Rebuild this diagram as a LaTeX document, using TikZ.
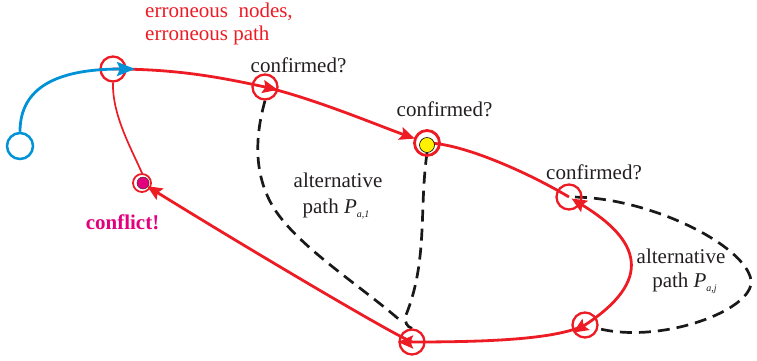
\documentclass[tikz,border=0pt]{standalone}
\usepackage{fontspec}
\setmainfont{Liberation Serif}
\usetikzlibrary{arrows.meta,backgrounds}
\definecolor{myred}{RGB}{237,28,36}
\definecolor{myblue}{RGB}{0,146,214}
\definecolor{mymag}{RGB}{228,0,124}
\definecolor{myyellow}{RGB}{255,241,0}
\definecolor{mytext}{RGB}{35,31,32}
\newcommand\pathsub[1]{\raisebox{-4pt}{\fontsize{10}{10}\selectfont\itshape #1}}
\begin{document}
\begin{tikzpicture}[x=1pt,y=-1pt,
  ring/.style={circle,draw=myred,line width=2.3pt,minimum size=25pt,inner sep=0pt},
  startring/.style={circle,draw=myblue,line width=2.5pt,minimum size=26pt,inner sep=0pt},
  mainpath/.style={draw=myred,line width=2.8pt},
  redtip/.style={-{Stealth[length=15pt,width=13pt,inset=2.5pt]}},
  redtipstart/.style={{Stealth[length=15pt,width=13pt,inset=2.5pt]}-{Stealth[length=15pt,width=13pt,inset=2.5pt]}},
  altpath/.style={draw=black!90,line width=2.7pt,dash pattern=on 12pt off 7pt},
  lbl/.style={font=\fontsize{21}{24}\selectfont,text=mytext,inner sep=0pt},
  errlbl/.style={font=\fontsize{21}{24}\selectfont,text=myred,inner sep=0pt},
  conflbl/.style={font=\fontsize{21}{24}\selectfont\bfseries,text=mymag,inner sep=0pt}
]
\useasboundingbox (0,0) rectangle (757,360);

% nodes
\node[startring] (S) at (20,146) {};
\node[ring] (A) at (113,69) {};
\node[ring] (B) at (265,87) {};
\node[ring,line width=2.8pt] (C) at (427,143) {};
\node[circle,fill=myyellow,draw=black,line width=0.6pt,minimum size=15pt,inner sep=0pt] (Cy) at (427,145) {};
\node[ring] (D) at (569,197) {};
\node[ring] (E) at (585,325) {};
\node[ring] (F) at (412,342) {};
\node[circle,draw=myred,line width=1.8pt,minimum size=18pt,inner sep=0pt] (G) at (142,183) {};
\node[circle,fill=mymag,draw=black!80,line width=0.5pt,minimum size=12pt,inner sep=0pt] (Gm) at (143,183) {};
\coordinate (F1) at (402,322);

\begin{pgfonlayer}{background}
% dashed alternative paths
\draw[altpath] (B.south) .. controls (254,140) and (255,175) .. (272,205)
  .. controls (295,245) and (360,285) .. (F1);
\draw[altpath] (Cy.south) .. controls (419,210) and (428,260) .. (406,315)
  .. controls (404,322) and (407,327) .. (F.north);
\draw[altpath,shorten <=6pt,shorten >=12pt] (D.center) .. controls (650,198) and (745,245) .. (751,280)
  .. controls (755,310) and (660,345) .. (E.center);
% main red path
\draw[mainpath,redtip,shorten >=-13pt] (A.center) .. controls +(60,0) and +(-50,-11) .. (B.center);
\draw[mainpath,redtip,shorten >=13pt] (B.center) .. controls +(50,12) and +(-50,-18) .. (C.center);
\draw[mainpath] (C.center) .. controls +(35,0) and +(-40,-24) .. (D.center);
\draw[mainpath,redtipstart,shorten <=3pt,shorten >=-14pt] (D.center) .. controls (640,240) and (655,280) .. (E.center);
\draw[mainpath,redtip,shorten >=-14pt] (E.center) .. controls +(-30,15) and +(70,0) .. (F.center);
\draw[mainpath,redtip,shorten >=6pt] (F.center) .. controls +(-20,-8) and +(100,62) .. (G.center);
\draw[myred,line width=1.7pt] (G.north) .. controls (132,150) and (112,115) .. (A.south);
\end{pgfonlayer}

% blue start path
\draw[myblue,line width=2.8pt,-{Stealth[length=18pt,width=14pt,inset=3pt]},shorten >=-22pt]
  (S.north) .. controls +(0,-45) and +(-55,0) .. (A.center);

% labels
\node[errlbl,anchor=base west] (e1) at (145,17) {erroneous\ \ nodes,};
\node[errlbl,anchor=base west] (e2) at (145,40) {erroneous path};
\node[lbl,anchor=base] (cB) at (298.5,72) {confirmed?};
\node[lbl,anchor=base] (cC) at (444.5,116) {confirmed?};
\node[lbl,anchor=base] (cD) at (594,179) {confirmed?};
\node[lbl,anchor=base] (a1) at (338,187) {alternative};
\node[lbl,anchor=base] (p1) at (336,213) {path \textit{P}\pathsub{a,1}};
\node[lbl,anchor=base] (a2) at (681,263) {alternative};
\node[lbl,anchor=base] (p2) at (684.5,287) {path \textit{P}\pathsub{a,j}};
\node[conflbl,anchor=base] (cf) at (122.5,229) {conflict!};
\end{tikzpicture}
\end{document}
